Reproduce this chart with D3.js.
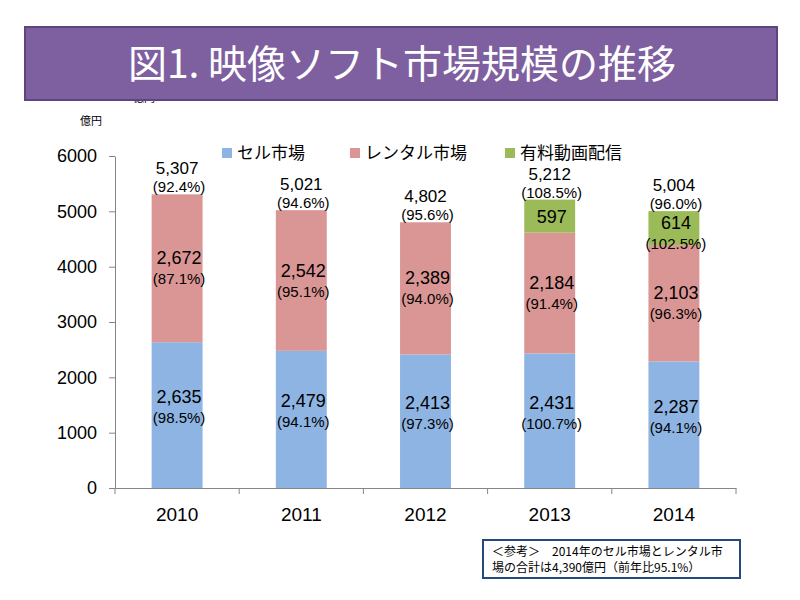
<!DOCTYPE html>
<html><head><meta charset="utf-8">
<script src="https://cdn.jsdelivr.net/npm/d3@7"></script>
<style>body{margin:0;background:#fff}svg{display:block}</style>
</head><body>
<svg id="c" width="800" height="600"></svg>
<script>
const years = ["2010","2011","2012","2013","2014"];
const sellValues = [2635, 2479, 2413, 2431, 2287];
const sellPct = ["98.5%","94.1%","97.3%","100.7%","94.1%"];
const rentalValues = [2672, 2542, 2389, 2184, 2103];
const rentalPct = ["87.1%","95.1%","94.0%","91.4%","96.3%"];
const streamValues = [0, 0, 0, 597, 614];
const streamPct = ["","","","","102.5%"];
const totalValues = [5307, 5021, 4802, 5212, 5004];
const totalPct = ["92.4%","94.6%","95.6%","108.5%","96.0%"];
const yTicks = [0,1000,2000,3000,4000,5000,6000];
const seriesNames = ["セル市場","レンタル市場","有料動画配信"];
const colors = ["#8DB4E2","#DA9694","#9BBB59"];

const svg = d3.select("#c");
const font = "'Noto Sans CJK JP','Noto Sans',sans-serif";
const lf = "'Liberation Sans',Arial,sans-serif";
const m = {l:115, r:736, t:156, b:488};
const x = d3.scaleBand().domain(years).range([m.l, m.r]).paddingInner(0.59).paddingOuter(0.295);
const y = d3.scaleLinear().domain([0,6000]).range([m.b, m.t]);

// remnant unit label hidden behind banner
svg.append("text").attr("x",133).attr("y",102).attr("font-size",11).attr("font-family",font).attr("fill","#000").text("億円");

// title banner
svg.append("rect").attr("x",25).attr("y",27).attr("width",752).attr("height",73)
  .attr("fill","#7E5FA0").attr("stroke","#5E4580").attr("stroke-width",2);
svg.append("text").attr("x",402).attr("y",78).attr("text-anchor","middle")
  .attr("font-size",39).attr("font-family",font).attr("fill","#fff").text("図1. 映像ソフト市場規模の推移");

// unit
svg.append("text").attr("x",80).attr("y",125).attr("font-size",11).attr("font-family",font).text("億円");

// axes
const gy = svg.append("g").attr("transform",`translate(${m.l},0)`)
  .call(d3.axisLeft(y).tickValues(yTicks).tickFormat(d3.format("d")).tickSize(6).tickSizeOuter(0).tickPadding(12));
gy.select(".domain").attr("stroke","#868686");
gy.selectAll(".tick line").attr("stroke","#868686");
gy.selectAll(".tick text").attr("font-size",18).attr("font-family",lf).attr("fill","#000");

const gx = svg.append("g").attr("transform",`translate(0,${m.b})`)
  .call(d3.axisBottom(x).tickSize(0).tickSizeOuter(0).tickPadding(20));
gx.select(".domain").attr("stroke","#868686");
gx.selectAll(".tick text").attr("font-size",19).attr("font-family",lf).attr("fill","#000");
const bounds = years.map(d => x(d) - x.step()*x.paddingInner()/2).concat([m.r]);
bounds[0] = m.l;
gx.selectAll(".bt").data(bounds).enter().append("line")
  .attr("x1",d=>d).attr("x2",d=>d).attr("y1",0).attr("y2",6).attr("stroke","#868686");

// stacks
const data = years.map((yr,i)=>({year:yr, sell:sellValues[i], rental:rentalValues[i], stream:streamValues[i]}));
const stack = d3.stack().keys(["sell","rental","stream"])(data);
stack.forEach((layer,li)=>{
  svg.append("g").selectAll("rect").data(layer).enter().append("rect")
    .attr("x",d=>x(d.data.year)).attr("width",x.bandwidth())
    .attr("y",d=>y(d[1])).attr("height",d=>y(d[0])-y(d[1]))
    .attr("fill",colors[li]);
});

function label(cx, cy, s, size){
  svg.append("text").attr("text-anchor","middle").attr("font-family",lf).attr("font-size",size)
    .attr("fill","#000").attr("x",cx).attr("y",cy).text(s);
}
const fmt = d3.format(",");
data.forEach((d,i)=>{
  const cx = x(d.year) + x.bandwidth()/2 + 2;
  const sMid = (y(0)+y(d.sell))/2 - 8;
  label(cx, sMid - 4, fmt(d.sell), 18);
  label(cx, sMid + 16, "("+sellPct[i]+")", 15);
  const rMid = (y(d.sell)+y(d.sell+d.rental))/2;
  label(cx, rMid - 4, fmt(d.rental), 18);
  label(cx, rMid + 16, "("+rentalPct[i]+")", 15);
  if (d.stream>0){
    const gMid = (y(d.sell+d.rental)+y(d.sell+d.rental+d.stream))/2;
    if (streamPct[i]){
      label(cx, gMid + 1, fmt(d.stream), 18);
      label(cx, gMid + 21, "("+streamPct[i]+")", 15);
    } else {
      label(cx, gMid + 7, fmt(d.stream), 18);
    }
  }
  const top = y(totalValues[i]);
  label(cx - 2, top - 20, fmt(totalValues[i]), 17);
  label(cx, top - 2, "("+totalPct[i]+")", 15);
});

// legend
const lx = [222, 350, 505];
seriesNames.forEach((n,i)=>{
  svg.append("rect").attr("x",lx[i]).attr("y",148).attr("width",10).attr("height",10).attr("fill",colors[i]);
  svg.append("text").attr("x",lx[i]+15).attr("y",159).attr("font-size",17).attr("font-family",font).text(n);
});

// note box
svg.append("rect").attr("x",483).attr("y",540).attr("width",257).attr("height",38)
  .attr("fill","#fff").attr("stroke","#254A7A").attr("stroke-width",2);
svg.append("text").attr("x",492).attr("y",556).attr("font-size",12).attr("font-family",font).text("＜参考＞　2014年のセル市場とレンタル市");
svg.append("text").attr("x",492).attr("y",572).attr("font-size",12).attr("font-family",font).text("場の合計は4,390億円（前年比95.1%）");
</script>
</body></html>
